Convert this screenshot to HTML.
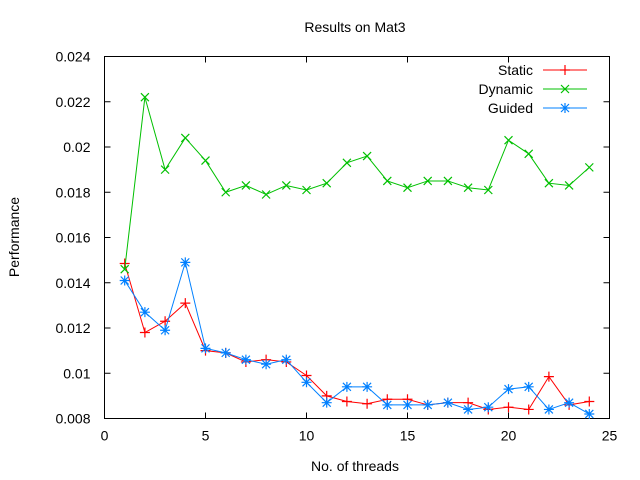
<!DOCTYPE html>
<html><head><meta charset="utf-8"><style>
body{margin:0;background:#fff}
svg{display:block;font-family:"Liberation Sans",sans-serif}
</style></head><body>
<svg id="chart" width="640" height="480">
<text x="355" y="32" font-size="14" text-anchor="middle">Results on Mat3</text>
<text x="355" y="471" font-size="14" text-anchor="middle">No. of threads</text>
<text transform="translate(19,237) rotate(-90)" font-size="14" text-anchor="middle">Performance</text>
<g id="axes"></g>
<g id="series"></g>
<g id="legend"></g>
</svg>
<script>
const threads=[1,2,3,4,5,6,7,8,9,10,11,12,13,14,15,16,17,18,19,20,21,22,23,24];
const staticVals=[0.01485,0.0118,0.0123,0.0131,0.0110,0.0109,0.0105,0.0106,0.0105,0.0099,0.0090,0.00875,0.00865,0.00885,0.00885,0.0086,0.0087,0.0087,0.0084,0.0085,0.0084,0.00985,0.0086,0.00875];
const dynamicVals=[0.0146,0.0222,0.0190,0.0204,0.0194,0.0180,0.0183,0.0179,0.0183,0.0181,0.0184,0.0193,0.0196,0.0185,0.0182,0.0185,0.0185,0.0182,0.0181,0.0203,0.0197,0.0184,0.0183,0.0191];
const guidedVals=[0.0141,0.0127,0.0119,0.0149,0.0111,0.0109,0.0106,0.0104,0.0106,0.0096,0.0087,0.0094,0.0094,0.0086,0.0086,0.0086,0.0087,0.0084,0.0085,0.0093,0.0094,0.0084,0.0087,0.0082];
const xTicks=[0,5,10,15,20,25];
const yTicks=[0.008,0.01,0.012,0.014,0.016,0.018,0.02,0.022,0.024];
const yTickLabels=["0.008","0.01","0.012","0.014","0.016","0.018","0.02","0.022","0.024"];
const L=104.5,R=609.5,T=56.5,B=418.5;
const X=v=>L+(v-0)/(25-0)*(R-L);
const Y=v=>B-(v-0.008)/(0.024-0.008)*(B-T);
const NS="http://www.w3.org/2000/svg";
function mk(tag,attrs,parent){const e=document.createElementNS(NS,tag);for(const k in attrs)e.setAttribute(k,attrs[k]);parent.appendChild(e);return e;}
const axes=document.getElementById('axes');
const frame=mk('rect',{x:L,y:T,width:R-L,height:B-T,fill:'none',stroke:'#000','stroke-width':1},axes);


xTicks.forEach(t=>{
 const x=X(t);
 const l=mk('path',{d:`M${x},${B}v-6M${x},${T}v6`,stroke:'#000'},axes);
 
 
 const tx=mk('text',{x:x,y:B+22,'font-size':14,'text-anchor':'middle'},axes);tx.textContent=t;
 
 
});
yTicks.forEach((t,i)=>{
 const y=Y(t);
 const l=mk('path',{d:`M${L},${y}h6M${R},${y}h-6`,stroke:'#000'},axes);
 
 
 const tx=mk('text',{x:L-14,y:y+5,'font-size':14,'text-anchor':'end'},axes);tx.textContent=yTickLabels[i];
 
 
});
function marker(type,x,y,color,g){
 let d;
 if(type==='plus')d=`M${x-5},${y}h10M${x},${y-5}v10`;
 else if(type==='x')d=`M${x-4},${y-4}l8,8M${x-4},${y+4}l8,-8`;
 else d=`M${x-5},${y}h10M${x},${y-5}v10M${x-4},${y-4}l8,8M${x-4},${y+4}l8,-8`;
 const p=mk('path',{d:d,stroke:color,'stroke-width':1.2,fill:'none'},g);
 
 
}
const series=[
 {name:'Static',vals:staticVals,color:'#ff0000',m:'plus'},
 {name:'Dynamic',vals:dynamicVals,color:'#00c000',m:'x'},
 {name:'Guided',vals:guidedVals,color:'#0080ff',m:'star'}];
const sg=document.getElementById('series'),lg=document.getElementById('legend');
series.forEach((s,i)=>{
 const g=mk('g',{},sg);
 
 
 const pts=threads.map((t,j)=>X(t)+','+Y(s.vals[j])).join(' ');
 const pl=mk('polyline',{points:pts,fill:'none',stroke:s.color,'stroke-width':1},g);
 
 
 threads.forEach((t,j)=>marker(s.m,X(t),Y(s.vals[j]),s.color,g));
 const ly=70+i*19;
 const e=mk('g',{},lg);
 
 
 const tx=mk('text',{x:533,y:ly+5,'font-size':14,'text-anchor':'end'},e);tx.textContent=s.name;
 mk('path',{d:`M543,${ly}h44`,stroke:s.color},e);
 marker(s.m,565,ly,s.color,e);
});
</script>
</body></html>
